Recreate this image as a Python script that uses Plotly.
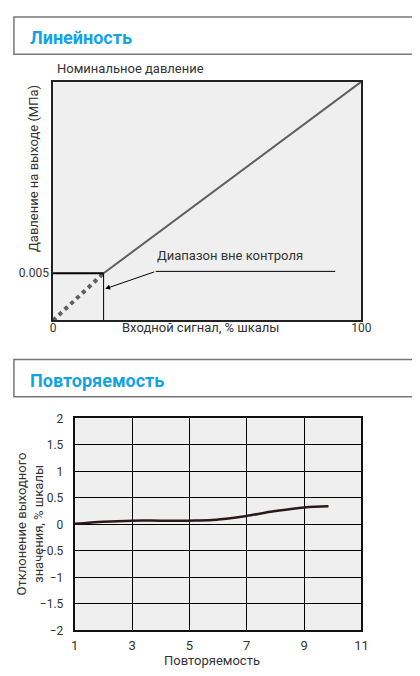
import plotly.graph_objects as go

# the page body keeps its default 8px margin, so the figure starts 8px in
FW, FH = 404, 668
OFF = 8

# Linearity chart
lin_x = [16.4, 100]
lin_y = [0.005, 0.0253]
dead_x = [0, 16.4]
dead_y = [0, 0.005]
lin_yticks = [0.005]
lin_xticks = [0, 100]

# Repeatability chart
rep_x = [1, 2, 3, 4, 5, 5.8, 6.5, 7, 8, 9, 9.85]
rep_y = [0.01, 0.05, 0.07, 0.07, 0.07, 0.08, 0.12, 0.16, 0.25, 0.32, 0.34]
rep_xticks = [1, 3, 5, 7, 9, 11]
rep_yticks = [-2, -1.5, -1, -0.5, 0, 0.5, 1, 1.5, 2]

FONT = "Roboto"
BLUE = "#12a3e3"
BG = "#eeefee"


def px(x):
    return (x - OFF) / FW


def py(y):
    return 1 - (y - OFF) / FH


fig = go.Figure()

fig.add_trace(go.Scatter(x=dead_x, y=dead_y, mode="lines",
                         line=dict(color="#5f5f5f", width=4, dash="dot"),
                         xaxis="x", yaxis="y", showlegend=False))
fig.add_trace(go.Scatter(x=lin_x, y=lin_y, mode="lines",
                         line=dict(color="#5f5f5f", width=2),
                         xaxis="x", yaxis="y", showlegend=False))
fig.add_trace(go.Scatter(x=rep_x, y=rep_y, mode="lines", line_shape="spline",
                         line=dict(color="#2a1a1a", width=2.5),
                         xaxis="x2", yaxis="y2", showlegend=False))

axis_font = dict(family=FONT, size=12, color="#333")

fig.update_layout(
    width=FW, height=FH,
    margin=dict(l=0, r=0, t=0, b=0),
    paper_bgcolor="white",
    plot_bgcolor=BG,
    font=dict(family=FONT, size=13, color="#333"),
    xaxis=dict(domain=[px(50.5), px(370)], range=[0, 100], tickvals=lin_xticks,
               showgrid=False, zeroline=False, showline=True, mirror=True,
               linecolor="#222", linewidth=1.5, ticks="", tickfont=axis_font,
               ticklabelstandoff=-5, anchor="y"),
    yaxis=dict(domain=[py(320), py(76)], range=[0, 0.0253], tickvals=lin_yticks,
               tickformat=".3f",
               showgrid=False, zeroline=False, showline=True, mirror=True,
               linecolor="#222", linewidth=1.5, ticks="", tickfont=axis_font,
               anchor="x"),
    xaxis2=dict(domain=[px(73), px(370)], range=[1, 11], tickvals=rep_xticks,
                showgrid=True, gridcolor="black", gridwidth=1, zeroline=False,
                showline=True, mirror=True, linecolor="#111", linewidth=2,
                ticks="", tickfont=dict(family=FONT, size=13, color="#333"),
                ticklabelstandoff=2, anchor="y2"),
    yaxis2=dict(domain=[py(636.5), py(420)], range=[-2, 2], tickvals=rep_yticks,
                showgrid=True, gridcolor="black", gridwidth=1, zeroline=False,
                showline=True, mirror=True, linecolor="#111", linewidth=2,
                ticks="", tickfont=axis_font, ticklabelstandoff=7, anchor="x2"),
)

# header boxes
for y0, y1, title in [(10, 48, "Линейность"), (360, 398, "Повторяемость")]:
    fig.add_shape(type="rect", xref="paper", yref="paper",
                  x0=px(10), x1=px(430), y0=py(y1), y1=py(y0),
                  line=dict(color="#777", width=1.5), fillcolor="white")
    fig.add_annotation(xref="paper", yref="paper", x=px(25), y=py((y0 + y1) / 2 + 2),
                       text=f"<b>{title}</b>", showarrow=False, xanchor="left",
                       yanchor="middle", font=dict(family=FONT, size=18, color=BLUE))

# linearity chart labels
fig.add_annotation(xref="paper", yref="paper", x=px(53), y=py(63),
                   text="Номинальное давление", showarrow=False, xanchor="left",
                   yanchor="middle", font=dict(size=13))
fig.add_annotation(xref="paper", yref="paper", x=px(30), y=py(165),
                   text="Давление на выходе (МПа)", showarrow=False, textangle=-90,
                   xanchor="center", yanchor="middle", font=dict(size=13))
fig.add_annotation(xref="paper", yref="paper", x=px(203), y=py(327),
                   text="Входной сигнал, % шкалы", showarrow=False,
                   xanchor="center", yanchor="middle", font=dict(size=13))

# out-of-control zone marker
fig.add_shape(type="line", xref="x", yref="y", x0=0, x1=16.4, y0=0.005, y1=0.005,
              line=dict(color="black", width=2))
fig.add_shape(type="line", xref="x", yref="y", x0=16.4, x1=16.4, y0=0, y1=0.005,
              line=dict(color="black", width=1))
fig.add_shape(type="line", xref="x", yref="y", x0=33.3, x1=91.5, y0=0.0052, y1=0.0052,
              line=dict(color="black", width=1))
fig.add_annotation(xref="x", yref="y", x=16.9, y=0.00335, ax=33.3, ay=0.0052,
                   axref="x", ayref="y", text="", showarrow=True, arrowhead=2,
                   arrowsize=1, arrowwidth=1, arrowcolor="black")
fig.add_annotation(xref="x", yref="y", x=57.5, y=0.0069,
                   text="Диапазон вне контроля", showarrow=False,
                   xanchor="center", yanchor="middle", font=dict(size=13))

# repeatability chart labels
fig.add_annotation(xref="paper", yref="paper", x=px(215), y=py(667),
                   text="Повторяемость", showarrow=False,
                   xanchor="center", yanchor="middle", font=dict(size=13))
fig.add_annotation(xref="paper", yref="paper", x=px(27), y=py(528),
                   text="Отклонение выходного<br>значения, % шкалы", showarrow=False,
                   textangle=-90, xanchor="center", yanchor="middle",
                   font=dict(size=13))

fig.write_html("out.html")
